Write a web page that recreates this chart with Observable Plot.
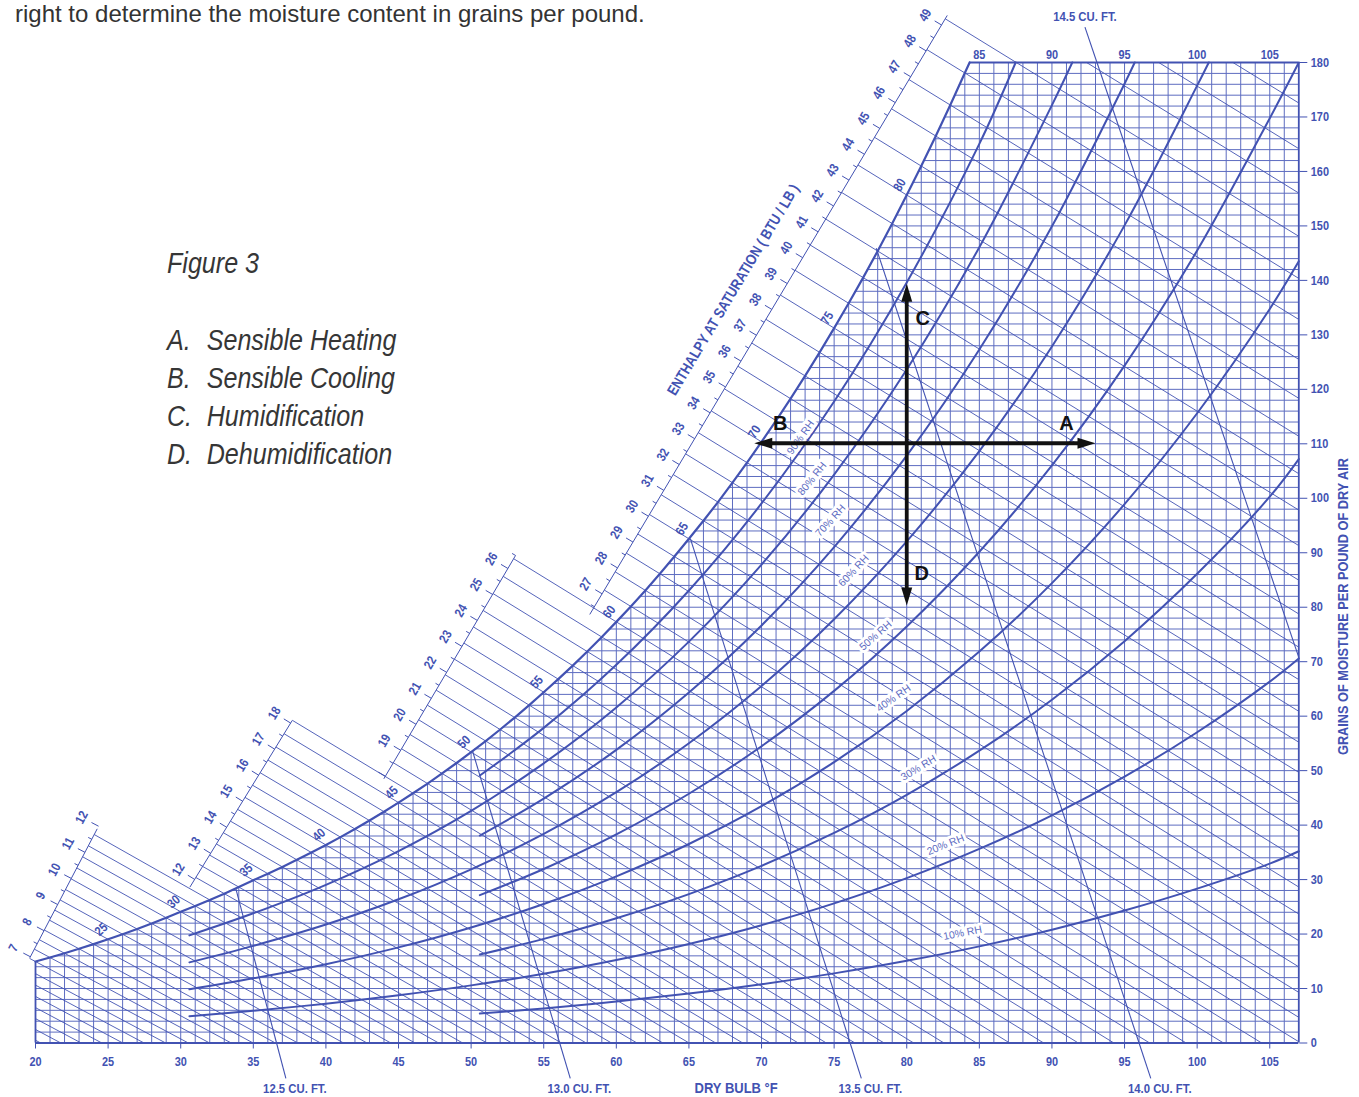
<!DOCTYPE html>
<html>
<head>
<meta charset="utf-8">
<title>Psychrometric chart – Figure 3</title>
<script src="https://cdn.jsdelivr.net/npm/d3@7"></script>
<script src="https://cdn.jsdelivr.net/npm/@observablehq/plot@0.6"></script>
<style>
  html, body { margin: 0; padding: 0; background: #fff; overflow: hidden; }
  #page { position: relative; width: 1359px; height: 1097px; overflow: hidden; }
  #chart { position: absolute; left: 0; top: 0; }
  .copy { position: absolute; white-space: nowrap; line-height: 1; color: #333;
          font-family: "Liberation Sans", Arial, sans-serif; }
  .fig { font-style: italic; font-size: 30px; color: #363636; transform: scaleX(0.836); transform-origin: 0 0; }
  .fig .k { display: inline-block; width: 47.5px; }
</style>
</head>
<body>
<div id="page">
  <div id="chart"></div>
  <div class="copy" style="left:15px; top:2px; font-size:24px;">right to determine the moisture content in grains per pound.</div>
  <div class="copy fig" style="left:167px; top:248px;">Figure 3</div>
  <div class="copy fig" style="left:167px; top:325px;"><span class="k">A.</span>Sensible Heating</div>
  <div class="copy fig" style="left:167px; top:363px;"><span class="k">B.</span>Sensible Cooling</div>
  <div class="copy fig" style="left:167px; top:401px;"><span class="k">C.</span>Humidification</div>
  <div class="copy fig" style="left:167px; top:439px;"><span class="k">D.</span>Dehumidification</div>
</div>
<script>
// ------------------------------------------------------------------ data
// Saturation (100% RH) curve: dry bulb °F and grains of moisture per lb of dry air
const satTemps = d3.range(13, 89);
const satGrains = [10.45, 11.00, 11.57, 12.17, 12.80, 13.46, 14.15,
  14.95, 15.69, 16.47, 17.29, 18.15, 19.04, 19.96, 20.92, 21.93, 22.99,
  24.10, 25.16, 26.27, 27.42, 28.63, 29.89, 31.09, 32.33, 33.63, 34.97,
  36.36, 37.80, 39.29, 40.84, 42.46, 44.14, 45.85, 47.63, 49.48, 51.40,
  53.41, 55.44, 57.55, 59.75, 62.02, 64.40, 66.80, 69.28, 71.86, 74.53,
  77.31, 80.15, 83.09, 86.14, 89.30, 92.56, 95.87, 99.30, 102.86, 106.54,
  110.36, 114.26, 118.29, 122.47, 126.79, 131.24, 135.80, 140.51, 145.39, 150.43,
  155.67, 160.99, 166.50, 172.19, 178.08, 184.17, 190.47, 196.98, 203.72];
const satTopT = 84.33;            // where the saturation curve meets the 180 gr line

// Relative-humidity curves: [dry bulb °F, grains]
const rh90 = [[50.6,49.10],[55,57.85],[60,69.43],[65,83.07],[70,99.05],[75,117.76],[80,139.61],[85,165.06],[87.5,180]];
const rh80 = [[30.6,19.76],[35,23.81],[40,29.04],[45,35.24],[50,42.62],[55,51.34],[60,61.61],[65,73.68],[70,87.82],[75,104.36],[80,123.65],[85,146.10],[90,172.18],[91.4,180]];
const rh70 = [[50.6,38.09],[55,44.86],[60,53.81],[65,64.34],[70,76.65],[75,91.04],[80,107.82],[85,127.30],[90,149.92],[95,176.11],[95.7,180]];
const rh60 = [[30.6,14.80],[35,17.83],[40,21.74],[45,26.38],[50,31.89],[55,38.39],[60,46.04],[65,55.03],[70,65.54],[75,77.80],[80,92.08],[85,108.67],[90,127.87],[95,150.10],[100,175.75],[100.8,180]];
const rh50 = [[50.6,27.14],[55,31.95],[60,38.30],[65,45.76],[70,54.48],[75,64.64],[80,76.47],[85,90.18],[90,106.04],[95,124.36],[100,145.48],[105,169.77],[107,180]];
const rh40 = [[30.6,9.86],[35,11.87],[40,14.47],[45,17.55],[50,21.21],[55,25.52],[60,30.59],[65,36.53],[70,43.47],[75,51.56],[80,60.96],[85,71.85],[90,84.42],[95,98.92],[100,115.61],[105,134.76],[107,143.5]];
const rh30 = [[50.6,16.24],[55,19.11],[60,22.90],[65,27.34],[70,32.52],[75,38.56],[80,45.56],[85,53.66],[90,63.01],[95,73.77],[100,86.13],[105,100.29],[107,107.2]];
const rh20 = [[30.6,4.92],[35,5.93],[40,7.22],[45,8.76],[50,10.58],[55,12.72],[60,15.24],[65,18.19],[70,21.63],[75,25.63],[80,30.27],[85,35.63],[90,41.80],[95,48.91],[100,57.05],[105,66.35],[107,70.6]];
const rh10 = [[50.6,5.40],[55,6.35],[60,7.61],[65,9.08],[70,10.79],[75,12.78],[80,15.08],[85,17.74],[90,20.80],[95,24.32],[100,28.34],[105,32.93],[107,35.2]];
const rhLevels = [90, 80, 70, 60, 50, 40, 30, 20, 10];
const rhCurves = [rh90, rh80, rh70, rh60, rh50, rh40, rh30, rh20, rh10];
const rhLabelT = [72.69, 73.49, 74.75, 76.34, 77.85, 79.09, 80.81, 82.67, 83.84];
const rhLabelW = [111.2, 103.6, 95.9, 86.7, 74.8, 63.3, 50.5, 36.4, 20.2];

// Wet-bulb lines (one per °F) and their slope in grains per °F
const wetBulbTemps = d3.range(13, 89);
const wbSlopeTemps = [20, 50];
const wbSlopeValues = [1.42, 1.64];
const wbScaleMax = 85;                 // last wet bulb line carried to the enthalpy scale
const wbLabelTemps = [25, 30, 35, 40, 45, 50, 55, 60, 65, 70, 75, 80];

// Enthalpy at saturation scales (BTU/lb)
const enthalpyLabels1 = d3.range(7, 13);
const enthalpyLabels2 = d3.range(12, 19);
const enthalpyLabels3 = d3.range(19, 27);
const enthalpyLabels4 = d3.range(27, 50);
const enthalpyRange = [[6.96, 11.9], [11.7, 18.1], [17.9, 26.5], [26.2, 49.37]];

// Specific volume lines (cu. ft. per lb)
const volumeNames = ["12.5 CU. FT.", "13.0 CU. FT.", "13.5 CU. FT.", "14.0 CU. FT.", "14.5 CU. FT."];
const volumeUpperT = [33.8, 50.1, 65.1, 77.9, 93.1];
const volumeUpperW = [28.3, 53.6, 92.6, 145.9, 180];
const volumeLowerT = [36.6, 56.1, 76.1, 96.0, 107];
const volumeLowerW = [0, 0, 0, 0, 70.8];

// Processes A–D from the state point 80 °F / 110 gr
const processLabels = ["A", "B", "C", "D"];
const processEndT = [93.0, 69.5, 80.0, 80.0];
const processEndW = [110.1, 110.1, 139.4, 80.3];
const processStart = [80.0, 110.1];

// Axis ticks
const bottomTicks = d3.range(20, 106, 5);
const topTicks = [85, 90, 95, 100, 105];
const rightTicks = d3.range(0, 181, 10);

// ------------------------------------------------------------------ layout
const FONT = '"Liberation Sans", Arial, sans-serif';
const CONDENSE = 0.84;            // horizontal squeeze that mimics the condensed face
const BLUE = "#4252b2";
const GRID = "#5d6cc0";
const W_PX = 1359, H_PX = 1097;
const mL = 35, mR = 60.7, mT = 62, mB = 54.5;
const xDomain = [20, 107], yDomain = [0, 180];
const kx = (W_PX - mL - mR) / (xDomain[1] - xDomain[0]);
const ky = (H_PX - mT - mB) / (yDomain[1] - yDomain[0]);
const toPx = (T, W) => [mL + (T - xDomain[0]) * kx, H_PX - mB - (W - yDomain[0]) * ky];
const toData = (x, y) => [xDomain[0] + (x - mL) / kx, yDomain[0] + (H_PX - mB - y) / ky];
const shift = (T, W, dx, dy) => { const [x, y] = toPx(T, W); return toData(x + dx, y + dy); };

// ends of the four enthalpy scale bars (dry bulb, grains)
const enthalpyScaleEnds = [
  [[19.61, 15.64], [24.25, 39.32]],
  [[30.63, 28.60], [37.68, 59.21]],
  [[43.99, 48.50], [53.06, 89.50]],
  [[58.17, 78.67], [82.79, 188.64]]
];
const enthalpyLabelSets = [enthalpyLabels1, enthalpyLabels2, enthalpyLabels3, enthalpyLabels4];
const wbLabelRotate = [-42, -42, -42, -42, -45, -45, -48, -52, -58, -58, -58, -60];
const processLabelOffset = [[-29, -20], [26, -20], [16, 35], [15, -32]];

const satLookup = new Map(satTemps.map((t, i) => [t, satGrains[i]]));
const satCurve = satTemps
  .filter(t => t >= xDomain[0] && satLookup.get(t) <= 180)
  .map(t => ({T: t, W: satLookup.get(t)}))
  .concat([{T: satTopT, W: 180}]);

const slopeOf = d3.scaleLinear().domain(wbSlopeTemps).range(wbSlopeValues).clamp(true);

const scales = enthalpyScaleEnds.map(([[T1, W1], [T2, W2]], i) => {
  const p1 = toPx(T1, W1), p2 = toPx(T2, W2);
  const len = Math.hypot(p2[0] - p1[0], p2[1] - p1[1]);
  const d = [(p2[0] - p1[0]) / len, (p2[1] - p1[1]) / len];
  const n = [d[1], -d[0]];
  return {T1, W1, T2, W2, p1, p2, d, n, h0: enthalpyRange[i][0], h1: enthalpyRange[i][1],
          labels: enthalpyLabelSets[i], angle: Math.atan2(d[1], d[0]) * 180 / Math.PI};
});
const scaleAt = (sc, h) => {
  const u = (h - sc.h0) / (sc.h1 - sc.h0);
  return [sc.p1[0] + u * (sc.p2[0] - sc.p1[0]), sc.p1[1] + u * (sc.p2[1] - sc.p1[1])];
};

// wet bulb line segments
const wbSegs = wetBulbTemps.map(t => {
  const Ws = satLookup.get(t), s = slopeOf(t);
  const lineW = T => Ws - s * (T - t);
  let start;
  if (t < xDomain[0]) start = [xDomain[0], lineW(xDomain[0])];
  else if (t > wbScaleMax) start = [t + (Ws - 180) / s, 180];
  else {
    let best = null, fallback = null, fbDist = Infinity;
    scales.forEach(sc => {
      const dT = sc.T2 - sc.T1, dW = sc.W2 - sc.W1;
      const u = (Ws - s * (sc.T1 - t) - sc.W1) / (dW + s * dT);
      const P = [sc.T1 + u * dT, sc.W1 + u * dW];
      if (u >= -0.03 && u <= 1.03) { if (!best || P[0] < best[0]) best = P; }
      const dist = u < 0 ? -u : u > 1 ? u - 1 : 0;
      if (dist < fbDist) { fbDist = dist; fallback = P; }
    });
    start = best || fallback;
  }
  const T0 = t + Ws / s;
  const end = T0 <= xDomain[1] ? [T0, 0] : [xDomain[1], lineW(xDomain[1])];
  return {x1: start[0], y1: start[1], x2: end[0], y2: end[1]};
});

// enthalpy scale ticks and labels
const tickSegs = [], enthLabels = [];
scales.forEach(sc => {
  for (let h = Math.ceil(sc.h0 * 2) / 2; h <= sc.h1 + 0.12; h += 0.5) {
    const [x, y] = scaleAt(sc, h);
    const L = Number.isInteger(h) ? 8 : 4;
    const a = toData(x, y), b = toData(x + sc.n[0] * L, y + sc.n[1] * L);
    tickSegs.push({x1: a[0], y1: a[1], x2: b[0], y2: b[1]});
  }
  sc.labels.forEach(h => {
    const [x, y] = scaleAt(sc, h);
    const p = toData(x + sc.n[0] * 19, y + sc.n[1] * 19);
    enthLabels.push({T: p[0], W: p[1], text: String(h), rotate: sc.angle});
  });
});
const sc4 = scales[3];
const titlePx = [sc4.p1[0] + 0.505 * (sc4.p2[0] - sc4.p1[0]) + sc4.n[0] * 43,
                 sc4.p1[1] + 0.505 * (sc4.p2[1] - sc4.p1[1]) + sc4.n[1] * 43];
const titleData = toData(...titlePx);

// RH labels
const rhLabelData = rhLevels.map((lv, i) => {
  const pts = rhCurves[i], T = rhLabelT[i];
  let j = pts.findIndex(p => p[0] >= T); if (j < 1) j = 1;
  const a = toPx(...pts[j - 1]), b = toPx(...pts[j]);
  return {T, W: rhLabelW[i], text: lv + "% RH", rotate: Math.atan2(b[1] - a[1], b[0] - a[0]) * 180 / Math.PI};
});

// wet bulb labels
const wbLabelData = wbLabelTemps.map((t, i) => ({T: t, W: satLookup.get(t), text: String(t), rotate: wbLabelRotate[i]}));

// volume lines
const volData = volumeNames.map((name, i) => {
  const up = [volumeUpperT[i], volumeUpperW[i]], lo = [volumeLowerT[i], volumeLowerW[i]];
  const dTdW = (up[0] - lo[0]) / (up[1] - lo[1]);
  const top = up[1] >= 180;
  const base = top ? up : lo;
  const extW = top ? 186.5 : -6.5;
  const ext = [base[0] + dTdW * (extW - base[1]), extW];
  const lab = top ? shift(ext[0], ext[1], 0, -10) : shift(ext[0], ext[1], 9, 10);
  return {name, x1: up[0], y1: up[1], x2: lo[0], y2: lo[1], bx: base[0], by: base[1], ex: ext[0], ey: ext[1], lx: lab[0], ly: lab[1]};
});

// process arrows
const o = toPx(...processStart);
const arrowData = processLabels.map((lab, i) => {
  const p = toPx(processEndT[i], processEndW[i]);
  const len = Math.hypot(p[0] - o[0], p[1] - o[1]);
  const d = [(p[0] - o[0]) / len, (p[1] - o[1]) / len];
  const shaftEnd = toData(p[0] - d[0] * 10, p[1] - d[1] * 10);
  const lp = toData(p[0] + processLabelOffset[i][0], p[1] + processLabelOffset[i][1]);
  return {lab, T: processEndT[i], W: processEndW[i], sx: shaftEnd[0], sy: shaftEnd[1],
          rot: Math.atan2(d[0], -d[1]) * 180 / Math.PI, lx: lp[0], ly: lp[1]};
});
const arrowHead = {draw(ctx) { ctx.moveTo(0, 0); ctx.lineTo(5.5, 18); ctx.lineTo(-5.5, 18); ctx.closePath(); }};

// ------------------------------------------------------------------ chart
const gridT = d3.range(21, 107);
const gridW = d3.range(2, 180, 2);

const chart = Plot.plot({
  width: W_PX, height: H_PX,
  marginLeft: mL, marginRight: mR, marginTop: mT, marginBottom: mB,
  x: {domain: xDomain, axis: null},
  y: {domain: yDomain, axis: null},
  style: {fontFamily: FONT, fontSize: "13px", fontWeight: "bold", color: BLUE, background: "transparent", overflow: "visible"},
  marks: [
    // grid
    Plot.ruleX(gridT, {y1: 0, y2: 180, stroke: GRID, strokeWidth: 1}),
    Plot.ruleY(gridW, {x1: 20, x2: 107, stroke: GRID, strokeWidth: 1}),
    // white area above the saturation curve
    Plot.areaY(satCurve, {x: "T", y1: "W", y2: () => 200, fill: "white"}),
    // wet bulb lines
    Plot.link(wbSegs, {x1: "x1", y1: "y1", x2: "x2", y2: "y2", stroke: BLUE, strokeWidth: 0.9}),
    // enthalpy scales
    Plot.link(scales, {x1: "T1", y1: "W1", x2: "T2", y2: "W2", stroke: BLUE, strokeWidth: 1}),
    Plot.link(tickSegs, {x1: "x1", y1: "y1", x2: "x2", y2: "y2", stroke: BLUE, strokeWidth: 1}),
    Plot.text(enthLabels, {x: "T", y: "W", text: "text", rotate: "rotate", fill: BLUE, fontSize: 13}),
    Plot.text(["ENTHALPY AT SATURATION ( BTU / LB )"], {x: titleData[0], y: titleData[1], rotate: sc4.angle, fill: BLUE, fontSize: 15}),
    // volume lines
    Plot.link(volData, {x1: "x1", y1: "y1", x2: "x2", y2: "y2", stroke: BLUE, strokeWidth: 1.1}),
    Plot.link(volData, {x1: "bx", y1: "by", x2: "ex", y2: "ey", stroke: BLUE, strokeWidth: 1.1}),
    Plot.text(volData, {x: "lx", y: "ly", text: "name", fill: BLUE, fontSize: 13.5}),
    // frame
    Plot.ruleY([0], {x1: 20, x2: 107, stroke: BLUE, strokeWidth: 1.8}),
    Plot.ruleY([180], {x1: satTopT, x2: 107, stroke: BLUE, strokeWidth: 1.8}),
    Plot.ruleX([107], {y1: 0, y2: 180, stroke: BLUE, strokeWidth: 1.8}),
    Plot.ruleX([20], {y1: 0, y2: satLookup.get(20), stroke: BLUE, strokeWidth: 1.8}),
    // saturation and RH curves
    Plot.line(satCurve, {x: "T", y: "W", stroke: BLUE, strokeWidth: 2.2}),
    ...rhCurves.map(c => Plot.line(c, {x: d => d[0], y: d => d[1], curve: "catmull-rom", stroke: BLUE, strokeWidth: 2})),
    // wet bulb labels on saturation curve
    Plot.text(wbLabelData, {x: "T", y: "W", text: "text", rotate: "rotate", dx: -7, dy: -10, fill: BLUE, fontSize: 13}),
    // RH labels
    Plot.text(rhLabelData, {x: "T", y: "W", text: "text", rotate: "rotate", fill: "#5e6cc2", stroke: "white", strokeWidth: 6,
      fontSize: 10.5, fontWeight: "normal", className: "keep-width"}),
    // process arrows
    Plot.link(arrowData, {x1: () => processStart[0], y1: () => processStart[1], x2: "sx", y2: "sy", stroke: "#111", strokeWidth: 3.8}),
    Plot.dot(arrowData, {x: "T", y: "W", symbol: arrowHead, rotate: "rot", fill: "#111", stroke: "none", r: 6}),
    Plot.text(arrowData, {x: "lx", y: "ly", text: "lab", fill: "#111", fontSize: 20, fontWeight: "bold", className: "keep-width"}),
    // axes
    Plot.axisX({anchor: "bottom", ticks: bottomTicks, tickSize: 6, tickPadding: 8, label: null, tickFormat: d => String(d)}),
    Plot.axisX({anchor: "top", ticks: topTicks, tickSize: 0, tickPadding: 4, label: null, tickFormat: d => String(d)}),
    Plot.axisY({anchor: "right", ticks: rightTicks, tickSize: 8, tickPadding: 4, label: null, tickFormat: d => String(d)}),
    Plot.text(["DRY BULB °F"], {frameAnchor: "bottom", dx: 69, dy: 45.5, lineAnchor: "middle", fill: BLUE, fontSize: 15.5}),
    Plot.text(["GRAINS OF MOISTURE PER POUND OF DRY AIR"], {frameAnchor: "right", rotate: -90, dx: 44.7, dy: 53.75,
      textAnchor: "middle", lineAnchor: "middle", fill: BLUE, fontSize: 15.2})
  ]
});

// squeeze the chart lettering horizontally (condensed typeface look), about each text's own x anchor
chart.querySelectorAll("text").forEach(el => {
  if (el.closest(".keep-width")) return;
  const t = el.getAttribute("transform") || "";
  const xv = Number(el.getAttribute("x"));
  const x = Number.isFinite(xv) ? xv : 0;
  el.setAttribute("transform", `${t} translate(${x},0) scale(${CONDENSE},1) translate(${-x},0)`.trim());
});
document.getElementById("chart").appendChild(chart);
</script>
</body>
</html>
